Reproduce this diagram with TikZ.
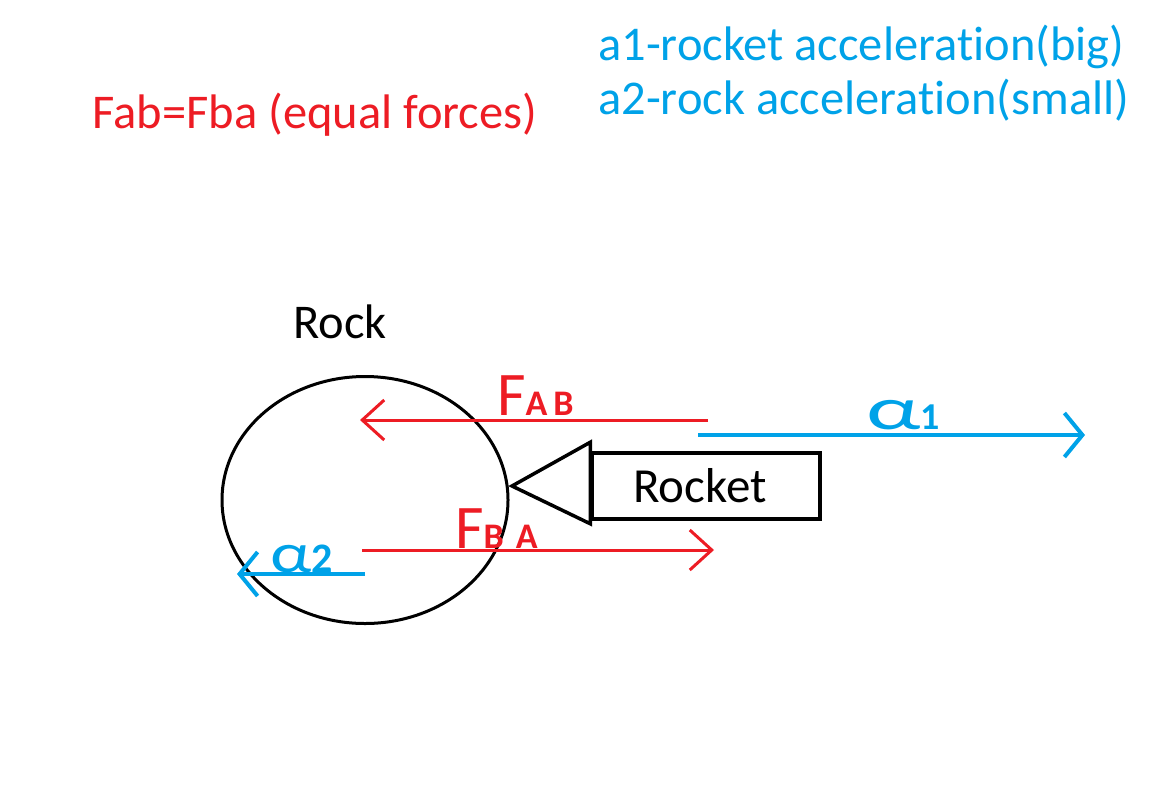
\documentclass[tikz,border=0pt]{standalone}
\usepackage{fontspec}
\setmainfont[Ligatures=NoCommon]{Carlito}
\usepackage{tikz}
\usetikzlibrary{arrows.meta,positioning,calc,shapes.geometric}
\definecolor{penred}{RGB}{237,28,36}
\definecolor{penblue}{RGB}{0,162,232}

\begin{document}
\begin{tikzpicture}[
    x=1pt,y=-1pt,
    font=\fontsize{48.5}{56}\selectfont,
    txt/.style={inner sep=0pt},
    body/.style={draw,line width=3.5pt,inner sep=0pt},
    force/.style={penred,line width=3pt,-{Straight Barb[length=22pt,width=40pt]}},
    accel/.style={penblue,line width=4pt,-{Straight Barb[length=18pt,width=44pt]}}
]
\useasboundingbox (0,0) rectangle (1174,793);
% legend
\node[txt,text=penred] (law) at (315,115) {Fab=Fba (equal forces)};
\node[txt,text=penblue,anchor=west] (legone) at (598,47) {a1-rocket acceleration(big)};
\node[txt,text=penblue,anchor=west] (legtwo) at (598,100) {a2-rock acceleration(small)};
% bodies
\node[txt] (rocklabel) at (340,322) {Rock};
\node[ellipse,draw,line width=3pt,minimum width=286pt,minimum height=247pt,inner sep=0pt] (rock) at (365,500) {};
\node[body,minimum width=228pt,minimum height=66pt,font=\fontsize{49}{56}\selectfont] (rocket) at (706,486) {Rocket\hspace*{12pt}};
\coordinate (nose) at (512,486);
\draw[line width=3.5pt,line join=miter] ($(rocket.north west)+(0,-9)$) -- (nose) -- ($(rocket.south west)+(0,3)$) -- cycle;
% forces
\coordinate (fabtail) at (708,420);
\coordinate (fabtip) at (360,420);
\coordinate (fbatail) at (362,550);
\coordinate (fbatip) at (714,550);
\draw[force] (fabtail) -- (fabtip);
\draw[force] (fbatail) -- (fbatip);
\node[txt,text=penred,anchor=base west] (fab) at (497,415) {{\fontsize{62}{62}\selectfont F}{\fontsize{36}{36}\selectfont\bfseries A\,B}};
\node[txt,text=penred,anchor=base west] (fba) at (455,548) {{\fontsize{62}{62}\selectfont F}{\fontsize{36}{36}\selectfont\bfseries B\,\,A}};
% accelerations
\coordinate (aonetail) at (698,435);
\coordinate (aonetip) at (1085,435);
\coordinate (atwotail) at (365,574);
\coordinate (atwotip) at (237,574);
\draw[accel] (aonetail) -- (aonetip);
\draw[accel] (atwotail) -- (atwotip);
\node[txt,text=penblue,anchor=base west] (aone) at (866,429) {{\fontsize{60}{60}\selectfont\scalebox{1.6}[1]{α}}{\fontsize{38}{38}\selectfont\bfseries 1}};
\node[txt,text=penblue,anchor=base west] (atwo) at (270,572) {{\fontsize{56}{56}\selectfont\scalebox{1.3}[1]{α}}{\fontsize{42}{42}\selectfont\bfseries 2}};
\end{tikzpicture}
\end{document}
